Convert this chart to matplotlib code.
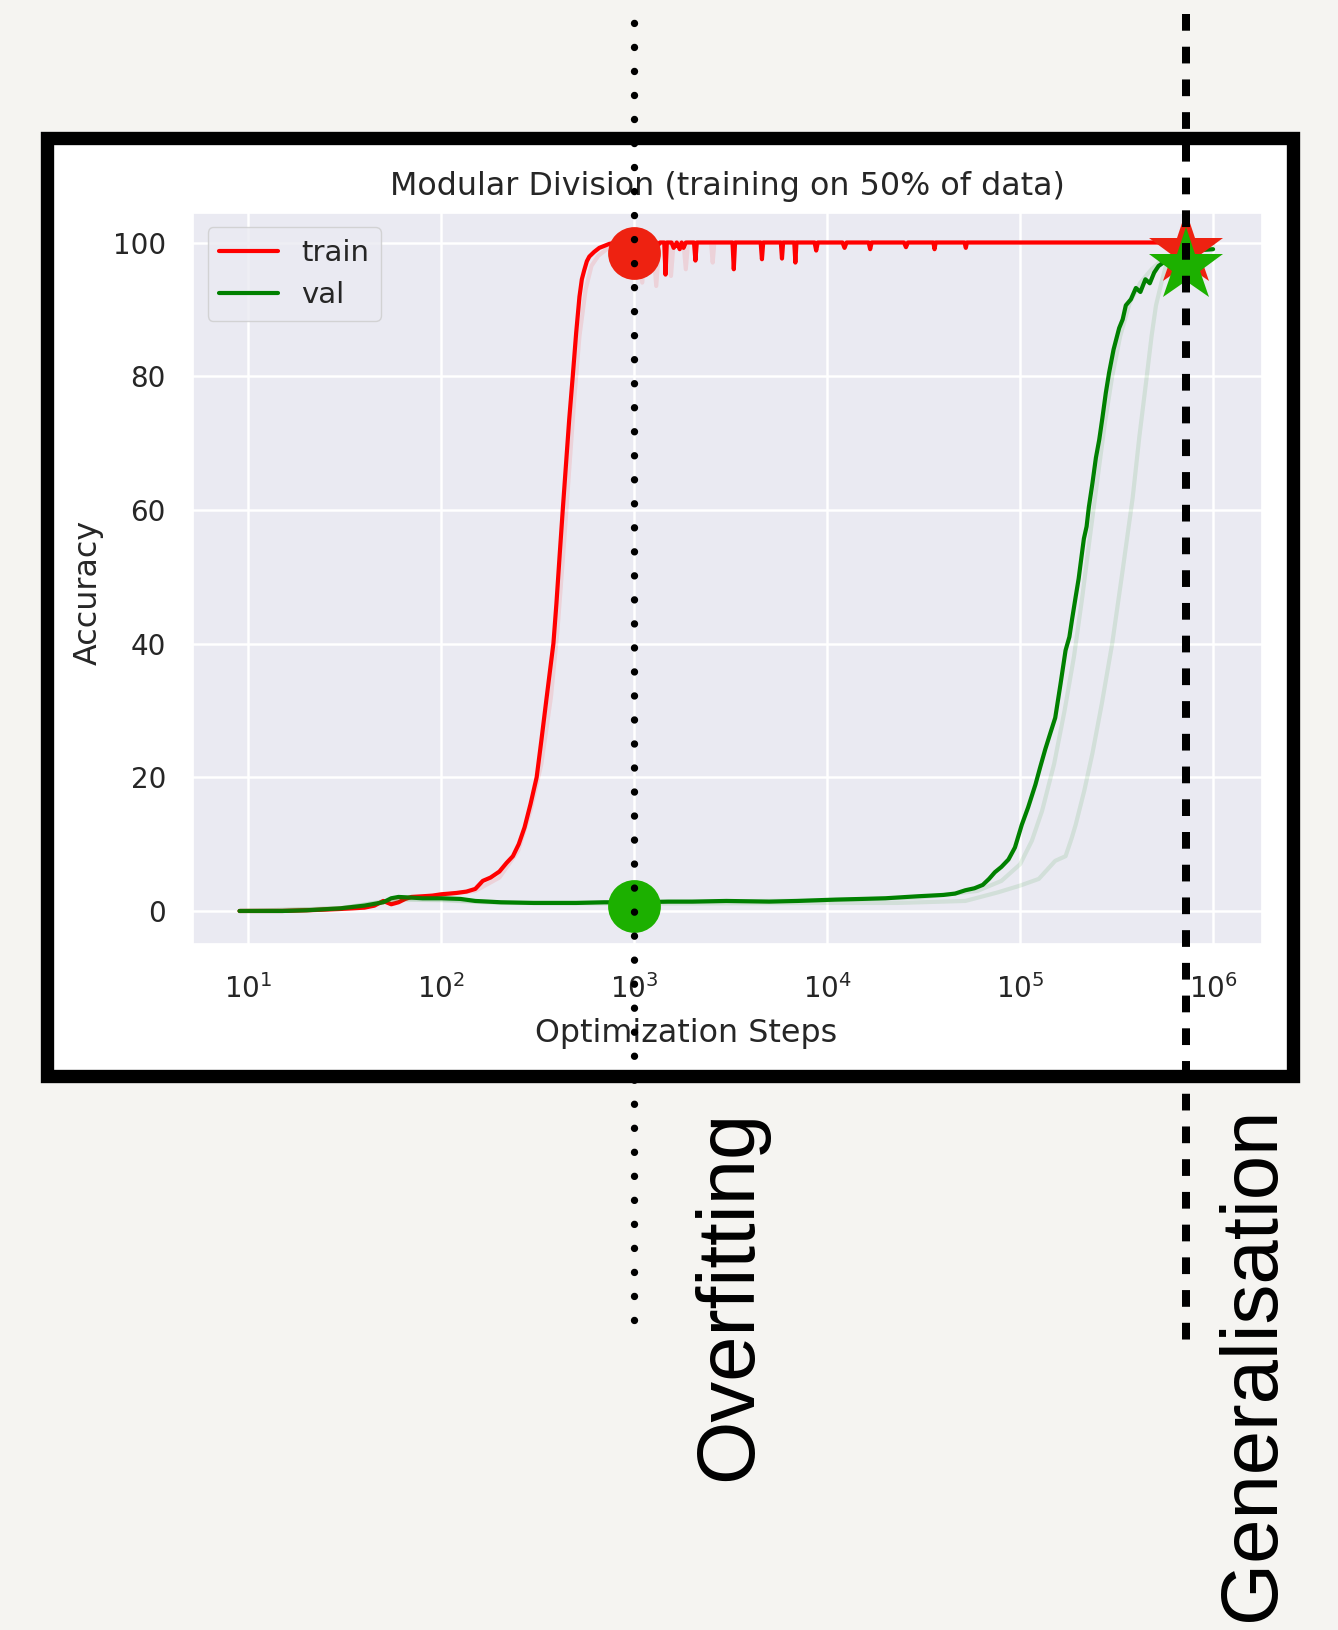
import matplotlib
matplotlib.use('Agg')
import matplotlib.pyplot as plt
import seaborn as sns
from matplotlib.lines import Line2D
from matplotlib.patches import Rectangle
from matplotlib.transforms import blended_transform_factory

# main run: train accuracy
train_steps = [9, 12, 15, 20, 25, 30, 35, 40, 45, 50, 55, 60, 65, 70, 80, 90, 100, 110, 120, 135,
               150, 164, 180, 200, 218, 235, 252, 270, 290, 312, 330, 350, 366, 381, 395, 410, 426,
               442, 460, 480, 500, 520, 535, 551, 568, 585, 620, 659, 700, 743, 800, 900, 1000,
               1300, 1330, 1360, 1430, 1452, 1475, 1560, 1600, 1633, 1660, 1720, 1760, 1800, 1850,
               2040, 2075, 2110, 3230, 3280, 3330, 4520, 4590, 4660, 5750, 5830, 5910, 6750, 6840,
               6930, 8600, 8770, 8940, 12000, 12300, 12600, 16400, 16700, 17000, 25000, 25600,
               26200, 35500, 36000, 36500, 51500, 52300, 53000, 1000000]
train_acc = [0, 0, 0, 0.1, 0.2, 0.3, 0.4, 0.5, 0.8, 1.5, 1.0, 1.3, 1.8, 2.1, 2.2, 2.3, 2.5, 2.6, 2.7, 2.9,
             3.3, 4.5, 5.0, 5.9, 7.2, 8.2, 10.0, 12.5, 16.0, 20.0, 25.5, 31.5, 36.0, 40.0, 46.0, 53.0, 60.0,
             66.5, 73.5, 80.0, 86.5, 91.9, 94.5, 95.9, 97.2, 97.9, 98.6, 99.2, 99.5, 99.8, 100, 100, 100,
             100, 99.6, 100, 100, 95.2, 100, 100, 99.2, 99.5, 100, 99.0, 100, 99.2, 100,
             100, 97.3, 100, 100, 96.0, 100, 100, 97.5, 100, 100, 97.6, 100, 100, 97.0,
             100, 100, 98.8, 100, 100, 99.2, 100, 100, 99.0, 100, 100, 99.3,
             100, 100, 99.0, 100, 100, 99.2, 100, 100]

# main run: validation accuracy
val_steps = [9, 15, 20, 30, 40, 50, 55, 60, 70, 80, 100, 126, 150, 204, 300, 500, 700, 1000, 1500, 2000,
             3000, 5000, 7000, 11000, 15000, 20000, 29500, 40000, 46000, 52000, 58000, 64000, 69000,
             74000, 80000, 87000, 94000, 102000, 110000, 120000, 127000, 135000, 143000, 152000,
             162000, 172000, 180000, 186000, 194000, 201000, 208000, 214000, 221000, 227000, 237000,
             247000, 257000, 267000, 278000, 289000, 305000, 326000, 340000, 353000, 375000, 398000,
             420000, 446000, 470000, 495000, 522000, 565000, 610000, 700000, 800000, 1000000]
val_acc = [0, 0, 0.1, 0.4, 0.8, 1.3, 1.9, 2.1, 2.0, 1.9, 1.9, 1.8, 1.5, 1.3, 1.2, 1.2, 1.3, 1.3, 1.4, 1.4,
           1.5, 1.4, 1.5, 1.7, 1.8, 1.9, 2.2, 2.4, 2.6, 3.1, 3.4, 3.9, 4.8,
           5.8, 6.6, 7.7, 9.5, 12.9, 15.5, 18.9, 21.5, 24.2, 26.5, 28.9,
           34.0, 39.0, 41.0, 43.7, 47.0, 49.7, 53.0, 55.7, 57.5, 60.4, 64.0,
           67.8, 70.5, 73.8, 77.5, 80.5, 84.0, 87.2, 88.5, 90.6, 91.5, 93.2,
           92.6, 94.5, 93.9, 95.5, 96.5, 97.2, 98.0, 98.4, 98.8, 99.0]

# other runs (drawn faint)
faint_train_steps = [9, 20, 40, 60, 100, 150, 200, 250, 290, 330, 370, 400, 430, 460, 490, 520, 560,
                     600, 650, 720, 800, 950, 1050, 1100, 1150, 1250, 1300, 1350, 1500, 1550, 1600,
                     1800, 1850, 1900, 2500, 2550, 2600, 1000000]
faint_train_acc = [0, 0.2, 0.6, 1.8, 2.4, 3.0, 5.0, 9.0, 15.0, 22.0, 32.0, 42.0, 54.0, 66.0, 77.0, 86.0, 93.0,
                   96.5, 98.0, 99.0, 99.6, 100, 100, 94.0, 100, 100, 93.5, 100, 100, 95.0, 100,
                   100, 96.0, 100, 100, 97.0, 100, 100]
faint_val1_steps = [9, 30, 60, 100, 200, 1000, 10000, 30000, 60000, 80000, 100000, 115000, 130000,
                    150000, 170000, 190000, 210000, 230000, 250000, 275000, 300000, 330000, 370000,
                    420000, 480000, 550000, 700000, 1000000]
faint_val1_acc = [0, 0.4, 1.8, 1.7, 1.3, 1.3, 1.6, 2.0, 3.0, 4.5, 7.0, 10.5, 15.0,
                  22.0, 30.0, 38.0, 47.0, 56.0, 64.0, 73.0, 80.0, 86.0, 91.0,
                  94.0, 96.0, 97.5, 98.5, 99.0]
faint_val2_steps = [9, 30, 60, 100, 200, 1000, 10000, 23000, 52000, 77000, 100000, 125000, 152000,
                    172000, 185000, 194000, 215000, 237000, 265000, 300000, 340000, 383000, 415000,
                    449000, 480000, 506000, 540000, 571000, 650000, 800000, 1000000]
faint_val2_acc = [0, 0.4, 1.7, 1.6, 1.2, 1.1, 1.2, 1.2, 1.5, 2.8, 3.8, 4.8, 7.5,
                  8.2, 10.9, 12.9, 18.0, 23.6, 31.0, 40.0, 51.0, 61.8, 71.0,
                  79.0, 86.0, 90.6, 94.0, 96.6, 98.0, 99.0, 99.5]

# highlighted points
overfit_step, overfit_train, overfit_val = 1000, 98.4, 0.75
general_step, general_train, general_val = 7.24e5, 98.9, 96.5

sns.set_theme(style='darkgrid')
plt.rcParams['font.family'] = ['DejaVu Sans']

W, H = 1338, 1630


def fx(px):
    return px / W


def fy(py):
    return 1 - py / H


fig = plt.figure(figsize=(W / 100, H / 100), dpi=100, facecolor='#f5f4f1')

# white card with thick black border
frame = Rectangle((fx(47.1), fy(1076.4)), fx(1292.9) - fx(47.1), fy(137.6) - fy(1076.4),
                  transform=fig.transFigure, facecolor='white', edgecolor='black',
                  linewidth=9.6, zorder=-1)
fig.add_artist(frame)

ax = fig.add_axes([fx(193), fy(944), fx(1261.7) - fx(193), fy(212.5) - fy(944)])

ax.plot(train_steps, train_acc, color='red', lw=3.0, label='train')
ax.plot(val_steps, val_acc, color='green', lw=3.0, label='val')
ax.plot(faint_train_steps, faint_train_acc, color='red', lw=3.0, alpha=0.1)
ax.plot(faint_val1_steps, faint_val1_acc, color='green', lw=3.0, alpha=0.1)
ax.plot(faint_val2_steps, faint_val2_acc, color='green', lw=3.0, alpha=0.1)

ax.set_xscale('log')
ax.set_xlim(10 ** 0.713, 10 ** 6.252)
ax.set_ylim(-4.94, 104.49)
ax.set_yticks([0, 20, 40, 60, 80, 100])
ax.grid(True, which='major', color='white', lw=1.8)
ax.grid(False, which='minor')
ax.tick_params(axis='y', labelsize=20, pad=13.5, colors='.15')
ax.tick_params(axis='x', labelsize=20, pad=16, colors='.15')
ax.set_title('Modular Division (training on 50% of data)', fontsize=22.9, pad=12.6, color='.15')
ax.set_xlabel('Optimization Steps', fontsize=22.9, labelpad=10, color='.15', x=0.461)
ax.set_ylabel('Accuracy', fontsize=22.9, labelpad=6.7, color='.15', y=0.48)
ax.legend(loc='upper left', fontsize=21)

# overfitting / generalisation markers
ax.plot([overfit_step], [overfit_train], 'o', color='#ee2211', ms=38, mew=0, clip_on=False, zorder=5)
ax.plot([overfit_step], [overfit_val], 'o', color='#1cb000', ms=38, mew=0, clip_on=False, zorder=5)
ax.plot([general_step], [general_train], '*', color='#ee2211', ms=56, mew=0, clip_on=False, zorder=5)
ax.plot([general_step], [general_val], '*', color='#1cb000', ms=56, mew=0, clip_on=False, zorder=6)

blend = blended_transform_factory(ax.transData, fig.transFigure)
# dotted line drawn bottom-up so the last dot sits at the lower end
fig.add_artist(Line2D([overfit_step, overfit_step], [fy(1320), fy(21)], transform=blend,
                      color='black', lw=5.3, linestyle=(0, (0.01, 3.253)),
                      dash_capstyle='round', clip_on=False, zorder=10))
fig.add_artist(Line2D([general_step, general_step], [fy(14), fy(1341)], transform=blend,
                      color='black', lw=5.76, linestyle=(0, (2.09, 2.0)),
                      dash_capstyle='butt', clip_on=False, zorder=10))

fig.text(fx(751), fy(1481), 'Overfitting', rotation=90, rotation_mode='anchor',
         ha='left', va='baseline', fontsize=58.7, family='Liberation Sans', color='black')
fig.text(fx(1274), fy(1621), 'Generalisation', rotation=90, rotation_mode='anchor',
         ha='left', va='baseline', fontsize=57.4, family='Liberation Sans', color='black')

fig.savefig('out.png', dpi=100, facecolor=fig.get_facecolor())
